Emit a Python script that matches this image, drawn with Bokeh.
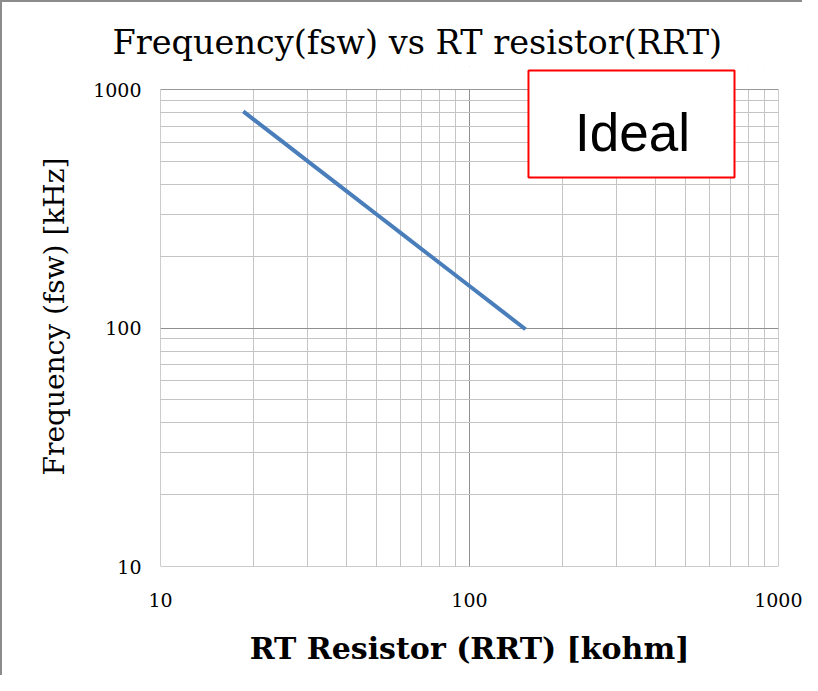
from bokeh.plotting import figure
from bokeh.models import FixedTicker, NumeralTickFormatter, Label, BoxAnnotation
from bokeh.embed import file_html
from bokeh.resources import INLINE

# Data
rrt_kohm = [18.75, 20, 25, 30, 40, 50, 60, 75, 100, 125, 150]
fsw_khz = [800, 750, 600, 500, 375, 300, 250, 200, 150, 120, 100]

major_ticks = [10, 100, 1000]
minor_ticks = [20, 30, 40, 50, 60, 70, 80, 90, 200, 300, 400, 500, 600, 700, 800, 900]

SERIF = "DejaVu Serif"

p = figure(width=802, height=675, x_axis_type="log", y_axis_type="log",
           x_range=(10, 1000), y_range=(10, 1249),
           output_backend="svg", toolbar_location=None,
           min_border_left=158, min_border_right=26, min_border_top=64, min_border_bottom=111)

p.title.text = "Frequency(fsw) vs RT resistor(RRT)"
p.title.align = "left"
p.title.offset = -48
p.title.text_font = SERIF
p.title.text_font_size = "33.5px"
p.title.text_font_style = "normal"
p.title.text_color = "black"

p.styles = {"border-left": "2px solid #8c8c8c", "border-top": "2px solid #8c8c8c"}

for ax in (p.xaxis, p.yaxis):
    ax.ticker = FixedTicker(ticks=major_ticks, minor_ticks=minor_ticks)
    ax.formatter = NumeralTickFormatter(format="0")
    ax.axis_line_color = None
    ax.major_tick_line_color = None
    ax.minor_tick_line_color = None
    ax.major_label_text_font = SERIF
    ax.major_label_text_font_size = "19px"
    ax.major_label_text_color = "black"
    ax.axis_label_text_font = SERIF
    ax.axis_label_text_color = "black"

p.xaxis.axis_label = "RT Resistor (RRT) [kohm]"
p.xaxis.axis_label_text_font_size = "30px"
p.xaxis.axis_label_text_font_style = "bold"
p.xaxis.major_label_standoff = 20
p.xaxis.axis_label_standoff = 21
p.yaxis.axis_label = "Frequency (fsw) [kHz]"
p.yaxis.axis_label_text_font_size = "28px"
p.yaxis.axis_label_text_font_style = "normal"
p.yaxis.major_label_standoff = 13
p.yaxis.axis_label_standoff = 19

for g in (p.xgrid, p.ygrid):
    g.ticker = FixedTicker(ticks=major_ticks, minor_ticks=minor_ticks)
    g.grid_line_color = "#8f8f8f"
    g.minor_grid_line_color = "#c4c4c4"
    g.grid_line_width = 1

p.outline_line_color = None

p.line(rrt_kohm, fsw_khz, line_color="#4a7ebb", line_width=4, line_cap="square")

# white area above the plotting frame (range extended so the box can overhang)
p.add_layout(BoxAnnotation(bottom=1000, fill_color="white", fill_alpha=1, line_color=None))
# frame border
p.add_layout(BoxAnnotation(left=10, right=1000, bottom=10, top=1000, fill_alpha=0,
                           line_color="#999999", line_alpha=1, line_width=1))
# "Ideal" box
p.add_layout(BoxAnnotation(left=155.2, right=720.5, bottom=427.6, top=1201.6,
                           fill_color="white", fill_alpha=1,
                           line_color="#ff0000", line_alpha=1, line_width=2))
p.add_layout(Label(x=337, y=660, text="Ideal", text_font="Liberation Sans", text_font_size="53px",
                   text_align="center", text_baseline="alphabetic", text_color="black"))

open("out.html", "w").write(file_html(p, INLINE))
